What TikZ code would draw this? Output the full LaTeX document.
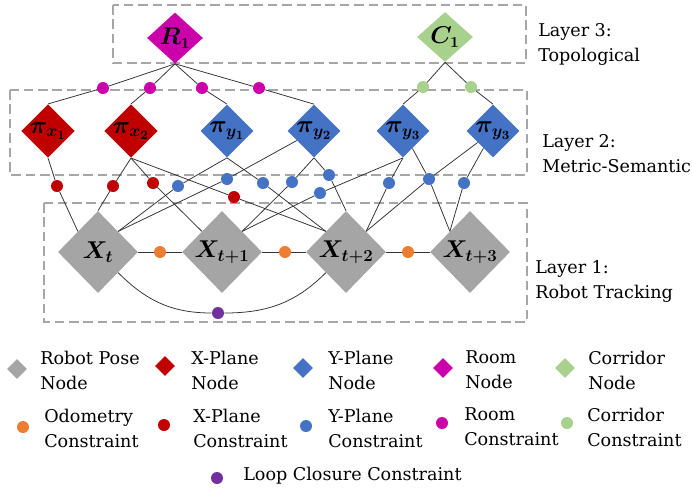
\documentclass[tikz,border=0pt]{standalone}
\usepackage[no-math]{fontspec}
\setmainfont{DejaVu Serif}
\usepackage{amsmath, amssymb}
\usepackage{bm}
\usepackage{tikz}
\usetikzlibrary{shapes.geometric}
\definecolor{posegray}{RGB}{165, 165, 165}
\definecolor{xplanered}{RGB}{192, 0, 0}
\definecolor{yplaneblue}{RGB}{68, 114, 196}
\definecolor{roommagenta}{RGB}{204, 0, 170}
\definecolor{corrgreen}{RGB}{169, 209, 142}
\definecolor{odomorange}{RGB}{237, 125, 49}
\definecolor{looppurple}{RGB}{112, 48, 160}
\definecolor{boxgray}{RGB}{166, 166, 166}

\begin{document}
\begin{tikzpicture}[x=0.25mm, y=-0.25mm,
    pose/.style={diamond, fill=posegray, inner sep=0pt, minimum width=20mm, minimum height=20.5mm, font=\fontsize{17}{19}\selectfont},
    plane/.style={diamond, inner sep=0pt, minimum width=13mm, minimum height=12.5mm, font=\fontsize{17.5}{19}\selectfont},
    topo/.style={diamond, inner sep=0pt, minimum width=14mm, minimum height=12.5mm, font=\fontsize{16}{18}\selectfont},
    factor/.style={circle, inner sep=0pt, minimum size=3mm},
    legdiam/.style={diamond, inner sep=0pt, minimum size=5mm},
    layerbox/.style={boxgray, line width=1.1pt, dash pattern=on 2.4mm off 1.2mm},
    edge/.style={black!80, line width=0.55pt},
    lbl/.style={anchor=west, align=left, inner sep=0pt, font=\fontsize{12.5}{17.8}\selectfont}]
    \useasboundingbox (0,0) rectangle (692,491);

    %% layer boxes
    \draw[layerbox] (113,5) rectangle (526,63);
    \draw[layerbox] (10,90) rectangle (527,175);
    \draw[layerbox] (44,203) rectangle (527,322);
    \node[lbl] (lay3) at (538,44) {Layer 3:\\Topological};
    \node[lbl] (lay2) at (542,154) {Layer 2:\\Metric-Semantic};
    \node[lbl] (lay1) at (535,281) {Layer 1:\\Robot Tracking};

    %% layer 3: room and corridor
    \node[topo, fill=roommagenta] (R1) at (175,38) {$\bm{R_1}$};
    \node[topo, fill=corrgreen] (C1) at (445,37) {$\bm{C_1}$};

    %% layer 2: planes
    \node[plane, fill=xplanered] (px1) at (48,131) {$\bm{\pi_{x_1}}$};
    \node[plane, fill=xplanered] (px2) at (131,131) {$\bm{\pi_{x_2}}$};
    \node[plane, fill=yplaneblue] (py1) at (227,131) {$\bm{\pi_{y_1}}$};
    \node[plane, fill=yplaneblue] (py2) at (314,131) {$\bm{\pi_{y_2}}$};
    \node[plane, fill=yplaneblue] (py3) at (403,131) {$\bm{\pi_{y_3}}$};
    \node[plane, fill=yplaneblue] (py4) at (493,131) {$\bm{\pi_{y_3}}$};

    %% layer 1: robot poses
    \node[pose] (X0) at (98,252) {$\bm{X_t}$};
    \node[pose] (X1) at (222,252) {$\bm{X_{t+1}}$};
    \node[pose] (X2) at (346,252) {$\bm{X_{t+2}}$};
    \node[pose] (X3) at (470,252) {$\bm{X_{t+3}}$};

    %% room and corridor constraints
    \node[factor, fill=roommagenta] (rc1) at (103,88) {};
    \node[factor, fill=roommagenta] (rc2) at (150,88) {};
    \node[factor, fill=roommagenta] (rc3) at (202,88) {};
    \node[factor, fill=roommagenta] (rc4) at (259,88) {};
    \node[factor, fill=corrgreen] (cc1) at (423,87) {};
    \node[factor, fill=corrgreen] (cc2) at (471,87) {};
    \draw[edge] (R1.south) -- (rc1) -- (px1.north);
    \draw[edge] (R1.south) -- (rc2) -- (px2.north);
    \draw[edge] (R1.south) -- (rc3) -- (py1.north);
    \draw[edge] (R1.south) -- (rc4) -- (py2.north);
    \draw[edge] (C1.south) -- (cc1) -- (py3.north);
    \draw[edge] (C1.south) -- (cc2) -- (py4.north);

    %% x-plane constraints
    \node[factor, fill=xplanered] (xc1) at (57,186) {};
    \node[factor, fill=xplanered] (xc2) at (113,186) {};
    \node[factor, fill=xplanered] (xc3) at (153,183) {};
    \node[factor, fill=xplanered] (xc4) at (234,197) {};
    \draw[edge] (px1.south) -- (xc1) -- (X0.north west);
    \draw[edge] (px2.south) -- (xc2) -- (X0.north);
    \draw[edge] (px2.south) -- (xc3) -- (X1.north west);
    \draw[edge] (px2.south) -- (xc4) -- (X2.north west);

    %% y-plane constraints
    \node[factor, fill=yplaneblue] (yc1) at (178,186) {};
    \node[factor, fill=yplaneblue] (yc2) at (227,179) {};
    \node[factor, fill=yplaneblue] (yc3) at (263,183) {};
    \node[factor, fill=yplaneblue] (yc4) at (292,182) {};
    \node[factor, fill=yplaneblue] (yc5) at (329,175) {};
    \node[factor, fill=yplaneblue] (yc6) at (320,193) {};
    \node[factor, fill=yplaneblue] (yc7) at (389,183) {};
    \node[factor, fill=yplaneblue] (yc8) at (429,179) {};
    \node[factor, fill=yplaneblue] (yc9) at (464,183) {};
    \draw[edge] (py1.south) -- (yc1) -- (X0.north east);
    \draw[edge] (py2) -- (yc2) -- (X0.north east);
    \draw[edge] (py1.south) -- (yc3) -- (X2.north west);
    \draw[edge] (py2.south) -- (yc4) -- (X1.north east);
    \draw[edge] (py2.south) -- (yc5) -- (X2.north);
    \draw[edge] (py3.south) -- (yc6) -- (X1.north east);
    \draw[edge] (py3.south) -- (yc7) -- (X2.north east);
    \draw[edge] (py3) -- (yc8) -- (X3.north west);
    \draw[edge] (py4) -- (yc8) -- (X2.north east);
    \draw[edge] (py4) -- (yc9) -- (X3.north west);

    %% odometry and loop closure
    \node[factor, fill=odomorange] (oc1) at (160,252) {};
    \node[factor, fill=odomorange] (oc2) at (285,252) {};
    \node[factor, fill=odomorange] (oc3) at (408,252) {};
    \node[factor, fill=looppurple] (lc) at (218,313) {};
    \draw[edge] (X0.east) -- (oc1) -- (X1.west);
    \draw[edge] (X1.east) -- (oc2) -- (X2.west);
    \draw[edge] (X2.east) -- (oc3) -- (X3.west);
    \draw[edge] (X0.south east) to[out=-45, in=180] (lc) to[out=0, in=-135] (X2.south west);

    %% legend
    \node[legdiam, fill=posegray] (lgpose) at (17,369) {};
    \node[legdiam, fill=xplanered] (lgxp) at (165,366) {};
    \node[legdiam, fill=yplaneblue] (lgyp) at (303,368) {};
    \node[legdiam, fill=roommagenta] (lgroom) at (443,368) {};
    \node[legdiam, fill=corrgreen] (lgcorr) at (565,368) {};
    \node[lbl] (lgposet) at (40,370) {Robot Pose\\Node};
    \node[lbl] (lgxpt) at (191,370) {X-Plane\\Node};
    \node[lbl] (lgypt) at (328,370) {Y-Plane\\Node};
    \node[lbl] (lgroomt) at (465,370) {Room\\Node};
    \node[lbl] (lgcorrt) at (588,370) {Corridor\\Node};

    \node[factor, fill=odomorange] (lgodo) at (23,427) {};
    \node[factor, fill=xplanered] (lgxc) at (164,425) {};
    \node[factor, fill=yplaneblue] (lgyc) at (306,426) {};
    \node[factor, fill=roommagenta] (lgrc) at (442,423) {};
    \node[factor, fill=corrgreen] (lgcc) at (567,423) {};
    \node[lbl] (lgodot) at (44,428) {Odometry\\Constraint};
    \node[lbl] (lgxct) at (193,428) {X-Plane\\Constraint};
    \node[lbl] (lgyct) at (328,428) {Y-Plane\\Constraint};
    \node[lbl] (lgrct) at (464,427) {Room\\Constraint};
    \node[lbl] (lgcct) at (587,427) {Corridor\\Constraint};

    \node[factor, fill=looppurple] (lglc) at (217,478) {};
    \node[lbl] (lglct) at (243,476) {Loop Closure Constraint};
  \end{tikzpicture}
\end{document}
